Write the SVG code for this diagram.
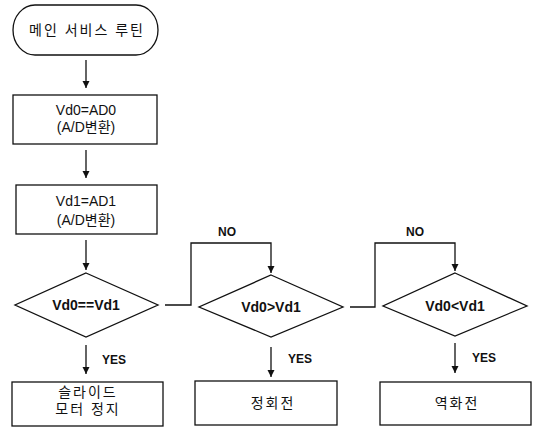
<svg xmlns="http://www.w3.org/2000/svg" width="534" height="428" viewBox="0 0 534 428">
<style>
.s{fill:#fff;stroke:#111;stroke-width:1.3}
.c{fill:none;stroke:#111;stroke-width:1.3}
.t{font-family:"Liberation Sans","Noto Sans CJK KR",sans-serif;font-size:14px;fill:#111;text-anchor:middle}
.k{letter-spacing:2px}
.b{font-weight:bold}
.l{font-family:"Liberation Sans",sans-serif;font-size:12px;font-weight:bold;fill:#111}
</style>
<defs>
<marker id="a" viewBox="0 0 10 10" refX="10" refY="5" markerWidth="7" markerHeight="9" orient="auto" markerUnits="userSpaceOnUse">
<path d="M0,0 L10,5 L0,10 Z" fill="#111"/>
</marker>
</defs>
<g id="connectors">
<line class="c" x1="86" y1="60" x2="86" y2="88" marker-end="url(#a)"/>
<line class="c" x1="86" y1="150" x2="86" y2="178" marker-end="url(#a)"/>
<line class="c" x1="86" y1="240" x2="86" y2="270" marker-end="url(#a)"/>
<line class="c" x1="86" y1="345" x2="86" y2="374" marker-end="url(#a)"/>
<line class="c" x1="271" y1="347" x2="271" y2="377" marker-end="url(#a)"/>
<line class="c" x1="455" y1="343" x2="455" y2="373" marker-end="url(#a)"/>
<polyline class="c" points="165,305 191,305 191,243 271,243 271,273" marker-end="url(#a)"/>
<polyline class="c" points="350,307 375,307 375,243 455,243 455,271" marker-end="url(#a)"/>
<text class="l" x="218" y="236">NO</text>
<text class="l" x="406" y="236">NO</text>
<text class="l" x="102" y="364">YES</text>
<text class="l" x="288" y="363">YES</text>
<text class="l" x="472" y="362">YES</text>
</g>
<g id="start">
<rect class="s" x="13" y="5" width="145" height="50" rx="22" ry="25"/>
<text class="t k" x="87" y="35">메인 서비스 루틴</text>
</g>
<g id="box1">
<rect class="s" x="13" y="95" width="144" height="49"/>
<text class="t" x="86" y="115">Vd0=AD0</text>
<text class="t" x="86" y="132">(A/D변환)</text>
</g>
<g id="box2">
<rect class="s" x="16" y="185" width="141" height="49"/>
<text class="t" x="86" y="206">Vd1=AD1</text>
<text class="t" x="86" y="225">(A/D변환)</text>
</g>
<g id="dec1">
<polygon class="s" points="86,273 158,305 86,337 15,305"/>
<text class="t b" x="86" y="310">Vd0==Vd1</text>
</g>
<g id="dec2">
<polygon class="s" points="271,275 343,307 271,337 199,307"/>
<text class="t b" x="271" y="312">Vd0&gt;Vd1</text>
</g>
<g id="dec3">
<polygon class="s" points="455,273 527,306 455,336 383,306"/>
<text class="t b" x="455" y="311">Vd0&lt;Vd1</text>
</g>
<g id="box3">
<rect class="s" x="12" y="382" width="151" height="44"/>
<text class="t k" x="88" y="397">슬라이드</text>
<text class="t k" x="88" y="414">모터 정지</text>
</g>
<g id="box4">
<rect class="s" x="195" y="381" width="142" height="44"/>
<text class="t k" x="273" y="408">정회전</text>
</g>
<g id="box5">
<rect class="s" x="380" y="382" width="151" height="43"/>
<text class="t k" x="457" y="408">역화전</text>
</g>
</svg>
